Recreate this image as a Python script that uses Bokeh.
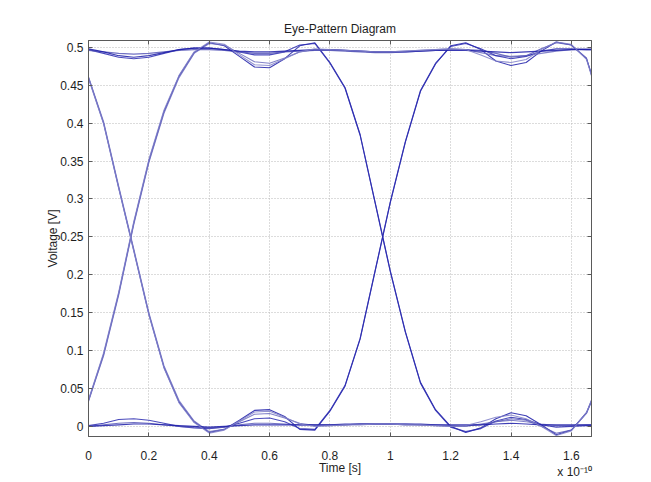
from bokeh.plotting import figure
from bokeh.models import Range1d, FixedTicker, LinearAxis
from bokeh.embed import file_html
from bokeh.resources import INLINE

# time axis in units of 1e-10 s
TIME = [0.00, 0.05, 0.10, 0.15, 0.20, 0.25, 0.30, 0.35, 0.40, 0.45,
        0.50, 0.55, 0.60, 0.65, 0.70, 0.75, 0.80, 0.85, 0.90, 0.95,
        1.00, 1.05, 1.10, 1.15, 1.20, 1.25, 1.30, 1.35, 1.40, 1.45,
        1.50, 1.55, 1.60, 1.65, 1.667]

# voltage traces [V], one per bit pattern
trace_0101 = [0.034, 0.095, 0.175, 0.268, 0.350, 0.415, 0.462, 0.493, 0.506, 0.502,
              0.488, 0.474, 0.473, 0.485,
              0.502, 0.506, 0.480, 0.447, 0.385, 0.295, 0.205, 0.125, 0.058, 0.022, 0.000, -0.008,
              -0.002, 0.010, 0.018, 0.014, 0.002,
              -0.011, -0.005, 0.018, 0.034]
trace_1010 = [0.460, 0.400, 0.315, 0.232, 0.148, 0.078, 0.032, 0.006, -0.008, -0.004,
              0.008, 0.021, 0.022, 0.013,
              -0.004, -0.005, 0.020, 0.053, 0.115, 0.205, 0.295, 0.375, 0.442, 0.478, 0.502, 0.506,
              0.497, 0.482, 0.476, 0.480, 0.495,
              0.507, 0.503, 0.485, 0.464]
trace_0111 = [0.033, 0.093, 0.173, 0.266, 0.348, 0.413, 0.460, 0.492, 0.505, 0.503,
              0.492, 0.481, 0.479, 0.486,
              0.494, 0.497, 0.497, 0.496, 0.495, 0.494, 0.494, 0.495, 0.496, 0.497, 0.498, 0.497,
              0.493, 0.489, 0.488, 0.489, 0.492,
              0.495, 0.497, 0.498, 0.498]
trace_1000 = [0.461, 0.402, 0.317, 0.234, 0.150, 0.080, 0.034, 0.007, -0.007, -0.004,
              0.006, 0.016, 0.017, 0.011,
              0.004, 0.001, 0.001, 0.002, 0.003, 0.003, 0.003, 0.002, 0.002, 0.001, 0.000, 0.000,
              0.003, 0.006, 0.008, 0.006, 0.003,
              0.001, 0.001, 0.002, 0.002]
trace_1100 = [0.497, 0.492, 0.487, 0.485, 0.487, 0.492, 0.497, 0.499, 0.499, 0.497,
              0.494, 0.490, 0.490, 0.494,
              0.503, 0.505, 0.479, 0.446, 0.384, 0.294, 0.204, 0.124, 0.057, 0.021, -0.001, -0.007,
              -0.003, 0.007, 0.012, 0.009, 0.002,
              -0.001, 0.000, 0.001, 0.001]
trace_0011 = [0.001, 0.004, 0.009, 0.010, 0.008, 0.004, 0.000, -0.002, -0.003, -0.001,
              0.004, 0.010, 0.011, 0.006,
              -0.003, -0.004, 0.021, 0.054, 0.116, 0.206, 0.296, 0.376, 0.443, 0.479, 0.501, 0.505,
              0.498, 0.489, 0.485, 0.488, 0.495,
              0.498, 0.498, 0.497, 0.497]
trace_1110 = [0.496, 0.494, 0.492, 0.491, 0.492, 0.494, 0.496, 0.497, 0.497, 0.496,
              0.494, 0.492, 0.492, 0.494,
              0.495, 0.496, 0.496, 0.495, 0.494, 0.493, 0.493, 0.494, 0.495, 0.496, 0.497, 0.497,
              0.496, 0.492, 0.487, 0.489, 0.498,
              0.506, 0.503, 0.486, 0.463]
trace_0001 = [0.000, 0.002, 0.004, 0.005, 0.004, 0.002, 0.000, -0.001, -0.002, -0.001,
              0.002, 0.004, 0.004, 0.003,
              0.002, 0.002, 0.002, 0.002, 0.003, 0.003, 0.003, 0.003, 0.002, 0.002, 0.001, 0.001,
              0.002, 0.006, 0.010, 0.008, 0.000,
              -0.009, -0.005, 0.017, 0.033]
trace_1111 = [0.498, 0.494, 0.489, 0.487, 0.489, 0.493, 0.497, 0.499, 0.499, 0.497,
              0.495, 0.494, 0.494, 0.495,
              0.496, 0.497, 0.497, 0.496, 0.495, 0.494, 0.494, 0.494, 0.495, 0.496, 0.496, 0.496,
              0.495, 0.494, 0.493, 0.494, 0.495,
              0.496, 0.497, 0.497, 0.497]
trace_0000 = [0.000, 0.001, 0.002, 0.003, 0.003, 0.002, 0.001, 0.000, -0.001, 0.000,
              0.001, 0.002, 0.002, 0.002,
              0.002, 0.002, 0.002, 0.003, 0.003, 0.003, 0.003, 0.003, 0.003, 0.002, 0.002, 0.002,
              0.002, 0.003, 0.004, 0.003, 0.002,
              0.002, 0.002, 0.002, 0.002]
trace_0110 = [0.035, 0.097, 0.177, 0.270, 0.352, 0.417, 0.463, 0.494, 0.507, 0.504,
              0.490, 0.477, 0.476, 0.485,
              0.494, 0.498, 0.497, 0.496, 0.495, 0.494, 0.494, 0.495, 0.496, 0.497, 0.498, 0.497,
              0.490, 0.482, 0.480, 0.484, 0.497,
              0.507, 0.504, 0.484, 0.462]
trace_1001 = [0.459, 0.399, 0.314, 0.231, 0.147, 0.077, 0.031, 0.005, -0.009, -0.005,
              0.007, 0.019, 0.020, 0.012,
              0.003, 0.000, 0.001, 0.002, 0.002, 0.003, 0.003, 0.002, 0.002, 0.001, 0.000, 0.001,
              0.006, 0.012, 0.015, 0.010, 0.000,
              -0.012, -0.006, 0.018, 0.035]

TRACES = [trace_0101, trace_1010, trace_0111, trace_1000, trace_1100, trace_0011,
          trace_1110, trace_0001, trace_1111, trace_0000, trace_0110, trace_1001]
TRACE_COLORS = ["#1c1ca8", "#1c1ca8", "#6d6dc0", "#6d6dc0", "#2a2ab0", "#2a2ab0",
                "#5858b8", "#5858b8", "#1c1ca8", "#1c1ca8", "#8080c8", "#8080c8"]

X_TICKS = [0, 0.2, 0.4, 0.6, 0.8, 1.0, 1.2, 1.4, 1.6]
Y_TICKS = [0, 0.05, 0.1, 0.15, 0.2, 0.25, 0.3, 0.35, 0.4, 0.45, 0.5]
X_LABELS = {v: f"{v:g}" for v in X_TICKS}
X_LABELS[1.6] = "1.6\n\u00a0\u00a0x 10\u207b\u00b9\u2070"   # axis exponent under the last tick
Y_LABELS = {v: f"{v:g}" for v in Y_TICKS}

# axes box limits (time in 1e-10 s, voltage in V)
X_MIN, X_MAX = 0.0, 1.6667
Y_MIN, Y_MAX = -0.0134, 0.509

FONT = "Liberation Sans"
TXT = "#1e1e1e"
AX = "#5a5a5a"
FS = "12px"

p = figure(frame_width=503, frame_height=396,
           x_range=Range1d(X_MIN, X_MAX), y_range=Range1d(Y_MIN, Y_MAX),
           output_backend="svg", toolbar_location=None,
           min_border_left=88, min_border_right=52, min_border_top=40, min_border_bottom=38,
           background_fill_color="white", border_fill_color="white")
p.outline_line_color = AX

p.title.text = "Eye-Pattern Diagram"
p.title.align = "center"
p.title.text_font = FONT
p.title.text_font_size = FS
p.title.text_font_style = "normal"
p.title.text_color = TXT
p.title.standoff = 10

for g, t in ((p.xgrid[0], X_TICKS), (p.ygrid[0], Y_TICKS)):
    g.ticker = FixedTicker(ticks=t)
    g.grid_line_color = "#b8b8b8"
    g.grid_line_dash = "1 2"
    g.grid_line_width = 1

for ys, c in zip(TRACES, TRACE_COLORS):
    p.line(TIME, ys, line_color=c, line_width=1.1, line_alpha=0.85, line_join="round")

for ax in (p.xaxis[0], p.yaxis[0]):
    ax.major_tick_in = 4
    ax.major_tick_out = 0
    ax.minor_tick_line_color = None
    ax.axis_line_color = AX
    ax.major_tick_line_color = AX
    ax.major_label_text_font = FONT
    ax.major_label_text_font_size = FS
    ax.major_label_text_color = TXT
    ax.axis_label_text_font = FONT
    ax.axis_label_text_font_size = FS
    ax.axis_label_text_font_style = "normal"
    ax.axis_label_text_color = TXT

p.xaxis.ticker = FixedTicker(ticks=X_TICKS)
p.yaxis.ticker = FixedTicker(ticks=Y_TICKS)
p.xaxis.major_label_overrides = X_LABELS
p.yaxis.major_label_overrides = Y_LABELS
p.xaxis.axis_label = "Time [s]"
p.yaxis.axis_label = "Voltage [V]"
p.xaxis.major_label_standoff = 12
p.xaxis.axis_label_standoff = -21
p.yaxis.major_label_standoff = 5
p.yaxis.axis_label_standoff = -3

# box sides with inward ticks and no labels (MATLAB box style)
top = LinearAxis(ticker=FixedTicker(ticks=X_TICKS), major_tick_in=4, major_tick_out=0,
                 minor_tick_line_color=None, axis_line_color=AX, major_tick_line_color=AX,
                 major_label_text_color=None, major_label_text_font_size="1px",
                 major_label_standoff=0)
right = LinearAxis(ticker=FixedTicker(ticks=Y_TICKS), major_tick_in=4, major_tick_out=0,
                   minor_tick_line_color=None, axis_line_color=AX, major_tick_line_color=AX,
                   major_label_text_color=None, major_label_text_font_size="1px",
                   major_label_standoff=0)
p.add_layout(top, "above")
p.add_layout(right, "right")

open("out.html", "w").write(file_html(p, INLINE))
